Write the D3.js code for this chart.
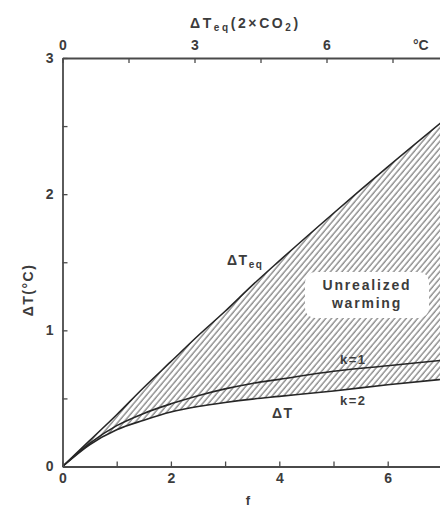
<!DOCTYPE html>
<html>
<head>
<meta charset="utf-8">
<script src="https://cdn.jsdelivr.net/npm/d3@7"></script>
<style>
  body { margin: 0; background: #fff; }
  text { font-family: "Liberation Sans", Arial, sans-serif; font-weight: bold; fill: #3c3c3c; }
</style>
</head>
<body>
<div id="chart"></div>
<script>
// forcing f and the temperature curves
const fValues = [0, 0.5, 1, 1.5, 2, 2.5, 3, 3.5, 4, 5, 6, 7];
const dTeq = [0, 0.19, 0.38, 0.58, 0.77, 0.96, 1.14, 1.33, 1.51, 1.86, 2.2, 2.53];
const dTk1 = [0, 0.17, 0.30, 0.39, 0.46, 0.52, 0.57, 0.61, 0.64, 0.70, 0.74, 0.78];
const dTk2 = [0, 0.16, 0.27, 0.34, 0.40, 0.44, 0.47, 0.495, 0.515, 0.555, 0.60, 0.64];

// tick values
const bottomTicks = [0, 1, 2, 3, 4, 5, 6, 7];
const leftTicks = [0, 0.5, 1, 1.5, 2, 2.5, 3];
const topTicks = [0, 1.5, 3, 4.5, 6, 7.5];

const width = 440, height = 511;
const margin = { top: 58, left: 62.5, bottom: 44.5 };

const svg = d3.select("#chart")
  .append("svg")
  .attr("width", width)
  .attr("height", height);

// hatch pattern for the unrealized warming band
svg.append("defs").append("pattern")
  .attr("id", "hatch")
  .attr("patternUnits", "userSpaceOnUse")
  .attr("width", 4.4)
  .attr("height", 10)
  .attr("patternTransform", "rotate(40)")
  .append("line")
  .attr("x1", 1).attr("y1", 0)
  .attr("x2", 1).attr("y2", 10)
  .attr("stroke", "#6a6a6a")
  .attr("stroke-width", 1.1);

const x = d3.scaleLinear()
  .domain([0, 7])
  .range([margin.left, margin.left + 7 * 54.2]);

const y = d3.scaleLinear()
  .domain([0, 3])
  .range([height - margin.bottom, margin.top]);

const xTop = d3.scaleLinear()
  .domain([0, 8.6])
  .range([margin.left, margin.left + 8.6 * 44]);

const idx = fValues.map((d, i) => i);

// shaded band between equilibrium and k=2 response
svg.append("path")
  .datum(idx)
  .attr("fill", "url(#hatch)")
  .attr("d", d3.area()
    .x(i => x(fValues[i]))
    .y0(i => y(dTk2[i]))
    .y1(i => y(dTeq[i]))
    .curve(d3.curveMonotoneX));

// curves
[dTeq, dTk1, dTk2].forEach(vals => {
  svg.append("path")
    .datum(idx)
    .attr("fill", "none")
    .attr("stroke", "#262626")
    .attr("stroke-width", 1.6)
    .attr("d", d3.line()
      .x(i => x(fValues[i]))
      .y(i => y(vals[i]))
      .curve(d3.curveMonotoneX));
});

// white box behind the label
svg.append("rect")
  .attr("x", 305).attr("y", 272)
  .attr("width", 124).attr("height", 46)
  .attr("rx", 10)
  .attr("fill", "#fff");

// axes
const axisStyle = g => {
  g.select(".domain").attr("stroke", "#4a4a4a").attr("stroke-width", 1.8);
  g.selectAll(".tick line").attr("stroke", "#4a4a4a").attr("stroke-width", 1.3);
  g.selectAll(".tick text")
    .attr("font-size", 14)
    .attr("font-family", "Liberation Sans, Arial, sans-serif")
    .attr("font-weight", "bold")
    .attr("fill", "#3c3c3c");
};

svg.append("g")
  .attr("transform", `translate(0,${height - margin.bottom})`)
  .call(d3.axisBottom(x).tickValues(bottomTicks).tickSize(-5).tickSizeOuter(0)
    .tickPadding(7).tickFormat(d => d % 2 === 0 ? d : ""))
  .call(axisStyle);

svg.append("g")
  .attr("transform", `translate(${margin.left},0)`)
  .call(d3.axisLeft(y).tickValues(leftTicks).tickSize(-5).tickSizeOuter(0)
    .tickPadding(9).tickFormat(d => Number.isInteger(d) ? d : ""))
  .call(axisStyle);

svg.append("g")
  .attr("transform", `translate(0,${margin.top})`)
  .call(d3.axisTop(xTop).tickValues(topTicks).tickSize(-5).tickSizeOuter(0)
    .tickPadding(8).tickFormat(d => d % 3 === 0 ? d : ""))
  .call(axisStyle);

// top axis unit and title
svg.append("text")
  .attr("x", 413).attr("y", 50)
  .attr("font-size", 14)
  .text("°C");

const topTitle = svg.append("text")
  .attr("x", 190).attr("y", 28)
  .attr("font-size", 14)
  .attr("letter-spacing", 2.6);
topTitle.append("tspan").text("ΔT");
topTitle.append("tspan").attr("font-size", 10).attr("dy", 3).text("eq");
topTitle.append("tspan").attr("dy", -3).text("(2×CO");
topTitle.append("tspan").attr("font-size", 10).attr("dy", 3).text("2");
topTitle.append("tspan").attr("dy", -3).text(")");

// axis titles
svg.append("text")
  .attr("x", 248).attr("y", 505)
  .attr("text-anchor", "middle")
  .attr("font-size", 13)
  .text("f");

svg.append("text")
  .attr("transform", "translate(33,290) rotate(-90)")
  .attr("text-anchor", "middle")
  .attr("font-size", 14)
  .attr("letter-spacing", 1.5)
  .text("ΔT(°C)");

// curve labels
const teqLabel = svg.append("text")
  .attr("x", 227).attr("y", 265)
  .attr("font-size", 14)
  .attr("letter-spacing", 1.5);
teqLabel.append("tspan").text("ΔT");
teqLabel.append("tspan").attr("font-size", 10).attr("dy", 3).text("eq");

svg.append("text")
  .attr("x", 340).attr("y", 364)
  .attr("font-size", 13)
  .attr("letter-spacing", 1.5)
  .text("k=1");

svg.append("text")
  .attr("x", 340).attr("y", 405)
  .attr("font-size", 13)
  .attr("letter-spacing", 1.5)
  .text("k=2");

svg.append("text")
  .attr("x", 272).attr("y", 418)
  .attr("font-size", 14)
  .attr("letter-spacing", 1.5)
  .text("ΔT");

svg.append("text")
  .attr("x", 367).attr("y", 290)
  .attr("text-anchor", "middle")
  .attr("font-size", 14)
  .attr("letter-spacing", 1.8)
  .text("Unrealized");

svg.append("text")
  .attr("x", 367).attr("y", 308)
  .attr("text-anchor", "middle")
  .attr("font-size", 14)
  .attr("letter-spacing", 1.8)
  .text("warming");
</script>
</body>
</html>
